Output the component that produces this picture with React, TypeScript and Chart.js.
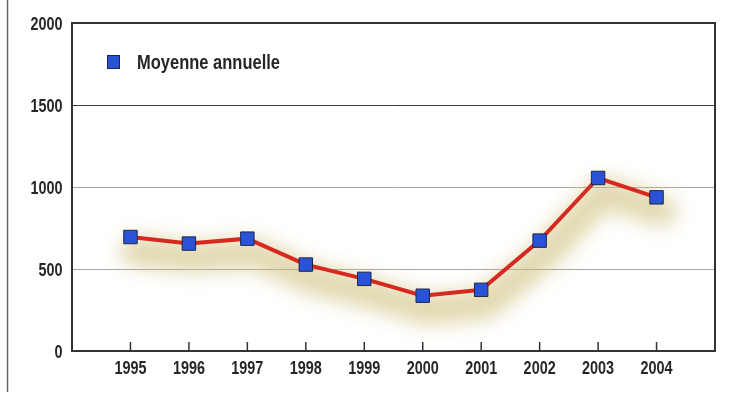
import React, { useEffect, useRef } from "react";
import { Chart, registerables } from "chart.js";

Chart.register(...registerables);

const years = [1995, 1996, 1997, 1998, 1999, 2000, 2001, 2002, 2003, 2004];
const moyenneAnnuelle = [695, 655, 685, 527, 440, 337, 373, 673, 1055, 937];
const seriesLabel = "Moyenne annuelle";
const yTicks = [0, 500, 1000, 1500, 2000];

const FONT = "'Liberation Sans', Arial, sans-serif";
const TEXT = "#262626";
const LINE_RED = "#d62a1f";
const MARK_BLUE = "#2a52d6";
const MARK_EDGE = "#1c2848";

function condensedText(ctx: any, text: string, x: number, y: number, align: string, size: number, sx: number) {
  ctx.save();
  ctx.font = "bold " + size + "px " + FONT;
  ctx.fillStyle = TEXT;
  ctx.textBaseline = "alphabetic";
  ctx.textAlign = align;
  ctx.translate(x, y);
  ctx.scale(sx, 1);
  ctx.fillText(text, 0, 0);
  ctx.restore();
}

const decoPlugin = {
  id: "deco",
  beforeDatasetsDraw(chart: any) {
    const ctx = chart.ctx;
    const meta = chart.getDatasetMeta(0);
    if (!meta || !meta.data.length) return;
    ctx.save();
    ctx.filter = "blur(10px)";
    ctx.strokeStyle = "rgba(205,188,118,0.6)";
    ctx.lineWidth = 30;
    ctx.lineJoin = "round";
    ctx.lineCap = "round";
    ctx.beginPath();
    meta.data.forEach((p: any, i: number) => {
      const x = p.x + 5;
      const y = p.y + 14;
      if (i === 0) ctx.moveTo(x, y);
      else ctx.lineTo(x, y);
    });
    ctx.stroke();
    ctx.restore();
  },
  afterDraw(chart: any) {
    const ctx = chart.ctx;
    const a = chart.chartArea;
    const xs = chart.scales.x;
    const ys = chart.scales.y;
    ctx.save();
    ctx.strokeStyle = "#333";
    ctx.lineWidth = 2;
    ctx.strokeRect(a.left, a.top, a.right - a.left, a.bottom - a.top);
    ctx.lineWidth = 1.5;
    years.forEach((yr) => {
      const x = xs.getPixelForValue(yr);
      ctx.beginPath();
      ctx.moveTo(x, a.bottom);
      ctx.lineTo(x, a.bottom - 9);
      ctx.stroke();
    });
    ctx.strokeStyle = "#666";
    ctx.lineWidth = 1.5;
    ctx.beginPath();
    ctx.moveTo(7.5, 0);
    ctx.lineTo(7.5, 392);
    ctx.stroke();
    ctx.restore();
    years.forEach((yr) => {
      condensedText(ctx, String(yr), xs.getPixelForValue(yr), a.bottom + 23, "center", 18, 0.8);
    });
    yTicks.forEach((v) => {
      condensedText(ctx, String(v), a.left - 9.5, ys.getPixelForValue(v) + 6.5, "right", 18, 0.8);
    });
    const ds = chart.data.datasets[0];
    ctx.save();
    ctx.fillStyle = ds.pointBackgroundColor;
    ctx.strokeStyle = ds.pointBorderColor;
    ctx.lineWidth = 1;
    ctx.fillRect(107, 55, 13, 14);
    ctx.strokeRect(107.5, 55.5, 12, 13);
    ctx.restore();
    condensedText(ctx, ds.label, 137, 68.5, "left", 19.5, 0.846);
  },
};

export default function App() {
  const ref = useRef<HTMLCanvasElement>(null);
  useEffect(() => {
    if (!ref.current) return;
    const chart = new Chart(ref.current, {
      type: "line",
      data: {
        datasets: [
          {
            label: seriesLabel,
            data: years.map((y, i) => ({ x: y, y: moyenneAnnuelle[i] })),
            borderColor: LINE_RED,
            borderWidth: 4,
            pointStyle: "rect",
            pointRadius: 9.5,
            pointBackgroundColor: MARK_BLUE,
            pointBorderColor: MARK_EDGE,
            pointBorderWidth: 1,
            tension: 0,
          },
        ],
      },
      options: {
        animation: false,
        responsive: true,
        maintainAspectRatio: false,
        layout: { padding: { left: 0, right: 26, top: 23, bottom: 0 } },
        plugins: { legend: { display: false }, tooltip: { enabled: false } },
        scales: {
          x: {
            type: "linear",
            min: 1994,
            max: 2005,
            afterBuildTicks: (s: any) => {
              s.ticks = [1994, ...years, 2005].map((v) => ({ value: v }));
            },
            afterFit: (s: any) => {
              s.height = 43;
            },
            ticks: { display: false },
            grid: { display: false, drawTicks: false },
            border: { display: false },
          },
          y: {
            min: 0,
            max: 2000,
            afterBuildTicks: (s: any) => {
              s.ticks = yTicks.map((v) => ({ value: v }));
            },
            afterFit: (s: any) => {
              s.width = 72;
            },
            ticks: { display: false },
            grid: {
              drawTicks: false,
              lineWidth: 1,
              color: (c: any) =>
                c.tick && c.tick.value === 1500
                  ? "#3a3a3a"
                  : c.tick && (c.tick.value === 500 || c.tick.value === 1000)
                  ? "#a8a8a8"
                  : "rgba(0,0,0,0)",
            },
            border: { display: false },
          },
        },
      },
      plugins: [decoPlugin],
    });
    return () => chart.destroy();
  }, []);
  return (
    <div style={{ position: "fixed", left: 0, top: 0, width: 741, height: 394, background: "#fff" }}>
      <canvas ref={ref} />
    </div>
  );
}
